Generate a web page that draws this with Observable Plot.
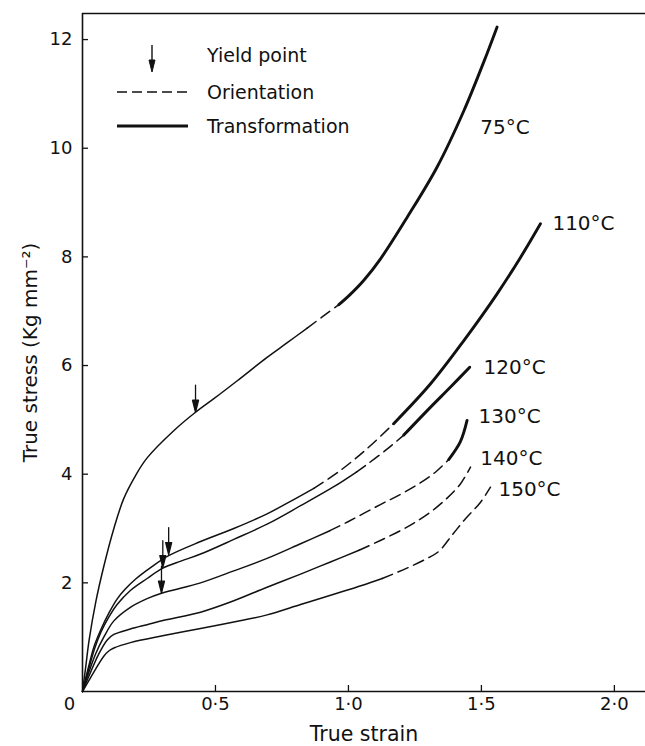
<!DOCTYPE html>
<html><head><meta charset="utf-8">
<script src="https://cdn.jsdelivr.net/npm/d3@7"></script>
<script src="https://cdn.jsdelivr.net/npm/@observablehq/plot@0.6"></script>
<style>
body{margin:0;background:#fff;}
#wrap{position:relative;width:645px;height:746px;}
#legend{position:absolute;left:0;top:0;pointer-events:none;}
</style></head><body><div id="wrap"></div>
<script>
// Curve names (test temperature)
const curveNames = ["75°C", "110°C", "120°C", "130°C", "140°C", "150°C"];

// [true strain, true stress]; each curve has a normal solid part,
// an "orientation" (dashed) part and a "transformation" (thick) part
const s75 = [[0,0],[0.012,0.45],[0.025,0.95],[0.05,1.65],[0.08,2.3],[0.118,3.0],[0.155,3.55],[0.2,3.98],[0.243,4.3],[0.343,4.8],[0.425,5.14],[0.494,5.39],[0.582,5.72],[0.694,6.15],[0.77,6.42],[0.845,6.69]];
const d75 = [[0.845,6.69],[0.9,6.89],[0.964,7.12]];
const t75 = [[0.964,7.12],[1.005,7.3],[1.058,7.57],[1.12,7.96],[1.221,8.73],[1.333,9.65],[1.434,10.69],[1.521,11.74],[1.559,12.23]];

const s110 = [[0,0],[0.02,0.4],[0.045,0.85],[0.07,1.15],[0.1,1.45],[0.13,1.7],[0.16,1.88],[0.2,2.07],[0.256,2.28],[0.324,2.5],[0.444,2.76],[0.569,3.0],[0.694,3.27],[0.782,3.5],[0.87,3.74]];
const d110 = [[0.87,3.74],[0.97,4.07],[1.07,4.47],[1.17,4.93]];
const t110 = [[1.17,4.93],[1.308,5.66],[1.434,6.46],[1.559,7.32],[1.647,7.99],[1.722,8.61]];

const s120 = [[0,0],[0.02,0.35],[0.045,0.78],[0.07,1.1],[0.1,1.38],[0.13,1.6],[0.18,1.86],[0.243,2.08],[0.302,2.27],[0.37,2.4],[0.444,2.53],[0.569,2.8],[0.694,3.08],[0.82,3.42],[0.945,3.77],[1.03,4.04]];
const d120 = [[1.03,4.04],[1.07,4.18],[1.145,4.46],[1.208,4.72]];
const t120 = [[1.208,4.72],[1.308,5.23],[1.383,5.6],[1.456,5.97]];

const s130 = [[0,0],[0.02,0.3],[0.05,0.7],[0.08,1.0],[0.118,1.3],[0.18,1.55],[0.243,1.71],[0.297,1.81],[0.343,1.87],[0.444,2.0],[0.569,2.22],[0.694,2.45],[0.82,2.72],[0.93,2.96]];
const d130 = [[0.93,2.96],[1.0,3.13],[1.12,3.44],[1.2,3.64],[1.27,3.84],[1.33,4.05],[1.377,4.27]];
const t130 = [[1.377,4.27],[1.421,4.6],[1.446,4.99]];

const s140 = [[0,0],[0.03,0.35],[0.06,0.68],[0.093,0.95],[0.118,1.05],[0.18,1.15],[0.243,1.23],[0.306,1.31],[0.444,1.46],[0.569,1.67],[0.694,1.92],[0.82,2.16],[0.93,2.38],[1.04,2.6]];
const d140 = [[1.04,2.6],[1.12,2.78],[1.195,2.96],[1.246,3.1],[1.308,3.3],[1.371,3.56],[1.421,3.82],[1.459,4.13]];
const t140 = [];

const s150 = [[0,0],[0.03,0.25],[0.06,0.5],[0.08,0.65],[0.1,0.75],[0.118,0.8],[0.18,0.9],[0.306,1.03],[0.444,1.16],[0.569,1.28],[0.694,1.41],[0.82,1.6],[0.945,1.79],[1.05,1.95],[1.127,2.08]];
const d150 = [[1.127,2.08],[1.22,2.27],[1.296,2.45],[1.34,2.58],[1.39,2.88],[1.44,3.18],[1.496,3.48],[1.534,3.76]];
const t150 = [];

// yield points (arrow tips)
const yieldStrain = [0.425, 0.324, 0.302, 0.297];
const yieldStress = [5.14, 2.52, 2.28, 1.81];

// curve label anchors (strain, stress)
const labelStrain = [1.496, 1.767, 1.508, 1.489, 1.496, 1.564];
const labelStress = [10.38, 8.61, 5.96, 5.06, 4.29, 3.72];

// axis ticks
const xTicks = [0, 0.5, 1.0, 1.5, 2.0];
const yTicks = [2, 4, 6, 8, 10, 12];
const xMax = 2.117, yMax = 12.48;

const segs = [
  [curveNames[0], s75, d75, t75],
  [curveNames[1], s110, d110, t110],
  [curveNames[2], s120, d120, t120],
  [curveNames[3], s130, d130, t130],
  [curveNames[4], s140, d140, t140],
  [curveNames[5], s150, d150, t150]
];
const rows = [];
for (const [name, s, d, t] of segs) {
  s.forEach(([x, y]) => rows.push({curve: name, phase: "solid", x, y}));
  d.forEach(([x, y]) => rows.push({curve: name, phase: "orientation", x, y}));
  t.forEach(([x, y]) => rows.push({curve: name, phase: "transformation", x, y}));
}
const yields = yieldStrain.map((x, i) => ({x, y: yieldStress[i]}));
const labels = curveNames.map((t, i) => ({t, x: labelStrain[i], y: labelStress[i]}));

const W = 645, H = 746, mL = 82, mT = 13, mB = 55, mR = 0;
const fmt = d => d === 0 ? "0" : d.toFixed(1).replace(".", "·");

const arrowShape = {
  draw(context, l) {
    context.moveTo(0, 0);
    context.lineTo(0, -l + 10);
    context.moveTo(-3, -l + 12);
    context.lineTo(0, -l);
    context.lineTo(3, -l + 12);
    context.closePath();
  }
};

const chart = Plot.plot({
  width: W, height: H,
  marginLeft: mL, marginTop: mT, marginBottom: mB, marginRight: mR,
  x: {domain: [0, xMax]},
  y: {domain: [0, yMax]},
  style: {fontFamily: "DejaVu Sans", fontSize: "18px", color: "#111", background: "#fff"},
  marks: [
    Plot.ruleX([0], {strokeWidth: 1.6}),
    Plot.ruleY([0], {strokeWidth: 1.6}),
    Plot.ruleY([yMax], {strokeWidth: 1.6}),
    Plot.tickY(yTicks, {y: d => d, insetRight: W - mL - mR - 6, strokeWidth: 1.3}),
    Plot.tickX(xTicks.filter(d => d > 0), {x: d => d, insetTop: H - mT - mB - 6, strokeWidth: 1.3}),
    Plot.axisY({ticks: yTicks, tickSize: 0, tickPadding: 10, label: null}),
    Plot.axisX({ticks: xTicks.filter(d => d > 0), tickSize: 0, tickPadding: 6, tickFormat: fmt, label: null}),
    Plot.axisX({ticks: [0], tickSize: 0, tickPadding: 6, tickFormat: fmt, dx: -13, label: null}),
    Plot.text(["True strain"], {frameAnchor: "bottom", textAnchor: "middle", dy: 49, fontSize: 20.5}),
    Plot.text(["True stress (Kg mm\u207B\u00B2)"], {frameAnchor: "left", textAnchor: "middle", dx: -52, rotate: -90, fontSize: 20}),
    Plot.line(rows.filter(d => d.phase === "solid"), {x: "x", y: "y", z: "curve", curve: "catmull-rom", strokeWidth: 1.5}),
    Plot.line(rows.filter(d => d.phase === "orientation"), {x: "x", y: "y", z: "curve", curve: "catmull-rom", strokeWidth: 1.5, strokeDasharray: "11,6"}),
    Plot.line(rows.filter(d => d.phase === "transformation"), {x: "x", y: "y", z: "curve", curve: "catmull-rom", strokeWidth: 2.9}),
    Plot.vector(yields, {x: "x", y: "y", length: 27, rotate: 180, anchor: "end", shape: arrowShape, stroke: "#111", fill: "#111", strokeWidth: 1.3}),
    Plot.text(labels, {x: "x", y: "y", text: "t", textAnchor: "start", fontSize: 20})
  ]
});
const wrap = document.getElementById("wrap");
wrap.appendChild(chart);

// legend (drawn over the plot area, top-left)
const ns = "http://www.w3.org/2000/svg";
const lg = document.createElementNS(ns, "svg");
lg.setAttribute("id", "legend");
lg.setAttribute("width", W); lg.setAttribute("height", H);
lg.innerHTML = `
<g font-family="DejaVu Sans" font-size="19" fill="#111">
<line x1="152" y1="45" x2="152" y2="62" stroke="#111" stroke-width="1.4"/>
<path d="M149,60 L152,72 L155,60 Z" fill="#111" stroke="#111" stroke-width="1"/>
<line x1="117" y1="92" x2="188" y2="92" stroke="#111" stroke-width="1.4" stroke-dasharray="10,5"/>
<line x1="117" y1="126" x2="188" y2="126" stroke="#111" stroke-width="2.9"/>
<text x="207" y="55" dy="0.35em">Yield point</text>
<text x="207" y="92" dy="0.35em">Orientation</text>
<text x="207" y="126" dy="0.35em">Transformation</text>
</g>`;
wrap.appendChild(lg);
</script>
</body></html>
